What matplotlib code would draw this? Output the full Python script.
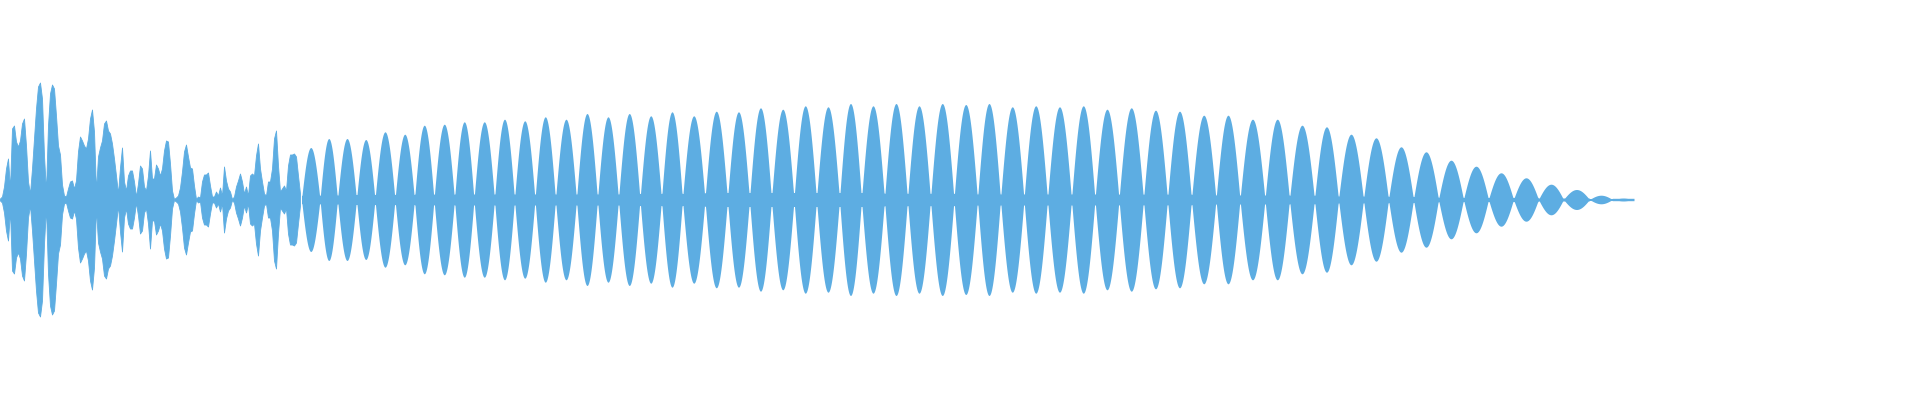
import numpy as np
import matplotlib
matplotlib.use("Agg")
import matplotlib.pyplot as plt

# ---- data -------------------------------------------------------------
# Onset (irregular part): envelope amplitude (px) sampled every 2 px, x = 0..300
onset_x = list(range(0, 302, 2))
onset_amp = [1, 3, 13, 31, 41, 11, 71, 74, 58, 53, 59, 76, 81, 54, 18, 6, 31, 61, 91, 113,
             117, 101, 44, 8, 74, 106, 115, 111, 84, 54, 45, 15, 4, 3, 11, 18, 19, 11, 19, 48,
             63, 59, 54, 51, 61, 81, 90, 68, 9, 43, 52, 59, 76, 79, 69, 66, 56, 41, 24, 6,
             32, 52, 18, 9, 24, 29, 29, 18, 3, 16, 34, 31, 13, 9, 24, 49, 21, 21, 35, 31,
             24, 31, 49, 59, 58, 36, 9, 0.5, 2, 4, 12, 28, 48, 55, 43, 32, 31, 14, 0.5, 3,
             2, 18, 25, 25, 27, 14, 3, 3, 8, 4, 12, 4, 33, 19, 11, 8, 0.5, 3, 13, 19,
             26, 18, 6, 13, 4, 24, 26, 24, 44, 56, 31, 18, 6, 4, 18, 18, 31, 61, 69, 34,
             8, 11, 14, 9, 34, 45, 45, 46, 43, 24, 6]

# Sustained part: beat nodes (x, px) and the peak amplitude of each lobe between them
beat_nodes = [301.5, 320, 337.5, 356.5, 375, 395, 414.5, 434, 454.5, 474, 494.5, 514.5,
              535, 555.5, 576.5, 597.5, 618.5, 640, 661.5, 682.5, 705, 727.5, 749.5, 771.5,
              794, 816.5, 839.5, 861.5, 884.5, 907.5, 930.5, 954, 977.5, 1000.5, 1024,
              1047.5, 1071.5, 1095, 1119, 1143.5, 1167.5, 1191.5, 1216, 1240, 1265, 1289.5,
              1314.5, 1338.5, 1363.5, 1388.5, 1413.5, 1438.5, 1463.5, 1488.5, 1513.5,
              1538.5, 1563.5, 1589.5, 1612.5, 1634]
lobe_peaks = [52, 61, 61, 60, 67.7, 65.3, 74.3, 75.3, 77.7, 77.7, 80.3, 78.7, 82.7, 80.3,
              86, 82.7, 86, 83.7, 87.7, 83.7, 88.3, 87.7, 91.7, 90.3, 93.7, 92.7, 96, 93.7,
              96, 93.7, 96, 95, 96, 92.7, 93.7, 92.7, 93.7, 90.3, 91.7, 89.3, 88.3, 84.3,
              84.3, 80.3, 80.3, 74.3, 72.7, 65.3, 61.7, 52.7, 47.7, 39.3, 33.3, 26.7, 21.7,
              15.3, 10, 4.3, 1.5]
node_floor = [4, 4, 4, 5, 5, 5, 5, 5, 5, 5, 5, 5, 5, 5, 5, 5, 5, 6, 6, 6, 7, 7, 7, 7, 7,
              7, 7, 7, 6, 6, 6, 6, 5, 5, 5, 5, 5, 5, 5, 5, 5, 5, 4, 4, 4, 4, 4, 3, 3, 3, 3,
              2, 2, 2, 2, 1.5, 1.5, 1, 1.2]

COLOR = "#5dade2"

# ---- build envelope of the sustained part -----------------------------
x_sus = np.arange(301.5, 1634.01, 0.5)
nodes = np.array(beat_nodes)
peaks = np.array(lobe_peaks)
floors = np.array(node_floor)
idx = np.clip(np.searchsorted(nodes, x_sus, side="right") - 1, 0, len(peaks) - 1)
t = (x_sus - nodes[idx]) / (nodes[idx + 1] - nodes[idx])
amp_sus = np.maximum(floors[idx], peaks[idx] * np.abs(np.sin(np.pi * t)))

# ---- draw -------------------------------------------------------------
fig = plt.figure(figsize=(19.2, 4.0), dpi=100)
ax = fig.add_axes([0, 0, 1, 1])
ox = np.array(onset_x, dtype=float)
oa = np.array(onset_amp, dtype=float)
ax.fill_between(ox, -oa, oa, color=COLOR, linewidth=0.6, edgecolor=COLOR)
ax.fill_between(x_sus, -amp_sus, amp_sus, color=COLOR, linewidth=0)
ax.set_xlim(0, 1920)
ax.set_ylim(-200.5, 199.5)
ax.axis("off")
fig.savefig("out.png", dpi=100, facecolor="white")
